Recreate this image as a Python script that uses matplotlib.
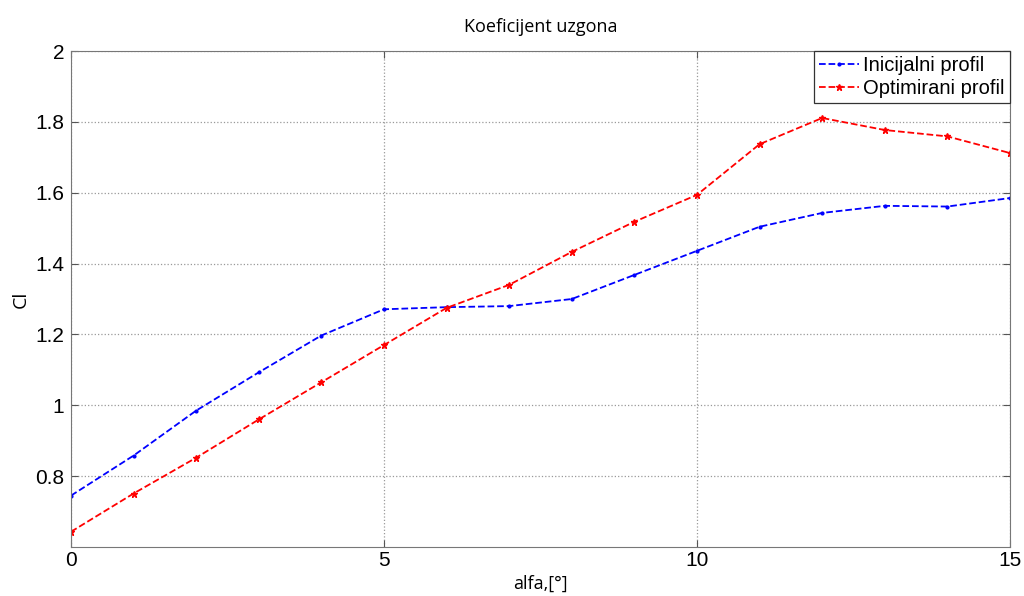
import numpy as np
import matplotlib.pyplot as plt

# data
alfa = np.arange(0, 16)
cl_init = [0.745, 0.858, 0.985, 1.093, 1.197, 1.271, 1.277, 1.280, 1.300,
           1.368, 1.436, 1.504, 1.543, 1.563, 1.561, 1.585]
cl_opt = [0.643, 0.751, 0.852, 0.960, 1.065, 1.170, 1.275, 1.340, 1.433,
          1.518, 1.594, 1.737, 1.811, 1.777, 1.759, 1.712]

fig = plt.figure(figsize=(10.24, 5.96), dpi=100)
ax = fig.add_axes([0.0693, 0.0822, 0.9170, 0.8322])

ax.plot(alfa, cl_init, "b--", marker=".", markersize=4, linewidth=1.3, label="Inicijalni profil")
ax.plot(alfa, cl_opt, "r--", marker="*", markersize=4.5, linewidth=1.3, label="Optimirani profil")

ax.set_xlim(0, 15)
ax.set_ylim(0.6, 2)
ax.set_xticks([0, 5, 10, 15])
ax.set_yticks([0.8, 1, 1.2, 1.4, 1.6, 1.8, 2])
ax.set_yticklabels(["0.8", "1", "1.2", "1.4", "1.6", "1.8", "2"])
ax.grid(True, linestyle=":", color="#999999", linewidth=0.9)
ax.tick_params(direction="in", top=True, right=True, length=5, labelsize=15,
               color="#555555")
ax.tick_params(axis="x", pad=3)
ax.tick_params(axis="y", pad=5)
for lab in ax.get_xticklabels() + ax.get_yticklabels():
    lab.set_family("Liberation Sans")
for s in ax.spines.values():
    s.set_color("#777777")

ax.set_title("Koeficijent uzgona", family="Open Sans", fontsize=13, pad=14)
ax.set_xlabel("alfa,[°]", family="Open Sans", fontsize=13, labelpad=3)
ax.set_ylabel("Cl", family="Open Sans", fontsize=14, labelpad=4)

leg = ax.legend(loc="upper right", prop={"family": "Liberation Sans", "size": 14.5},
                fancybox=False, framealpha=1, edgecolor="#333333",
                borderpad=0.25, handlelength=2.0, handletextpad=0.2,
                labelspacing=0.2, borderaxespad=0)
leg.get_frame().set_linewidth(0.9)

fig.savefig("out.png")
